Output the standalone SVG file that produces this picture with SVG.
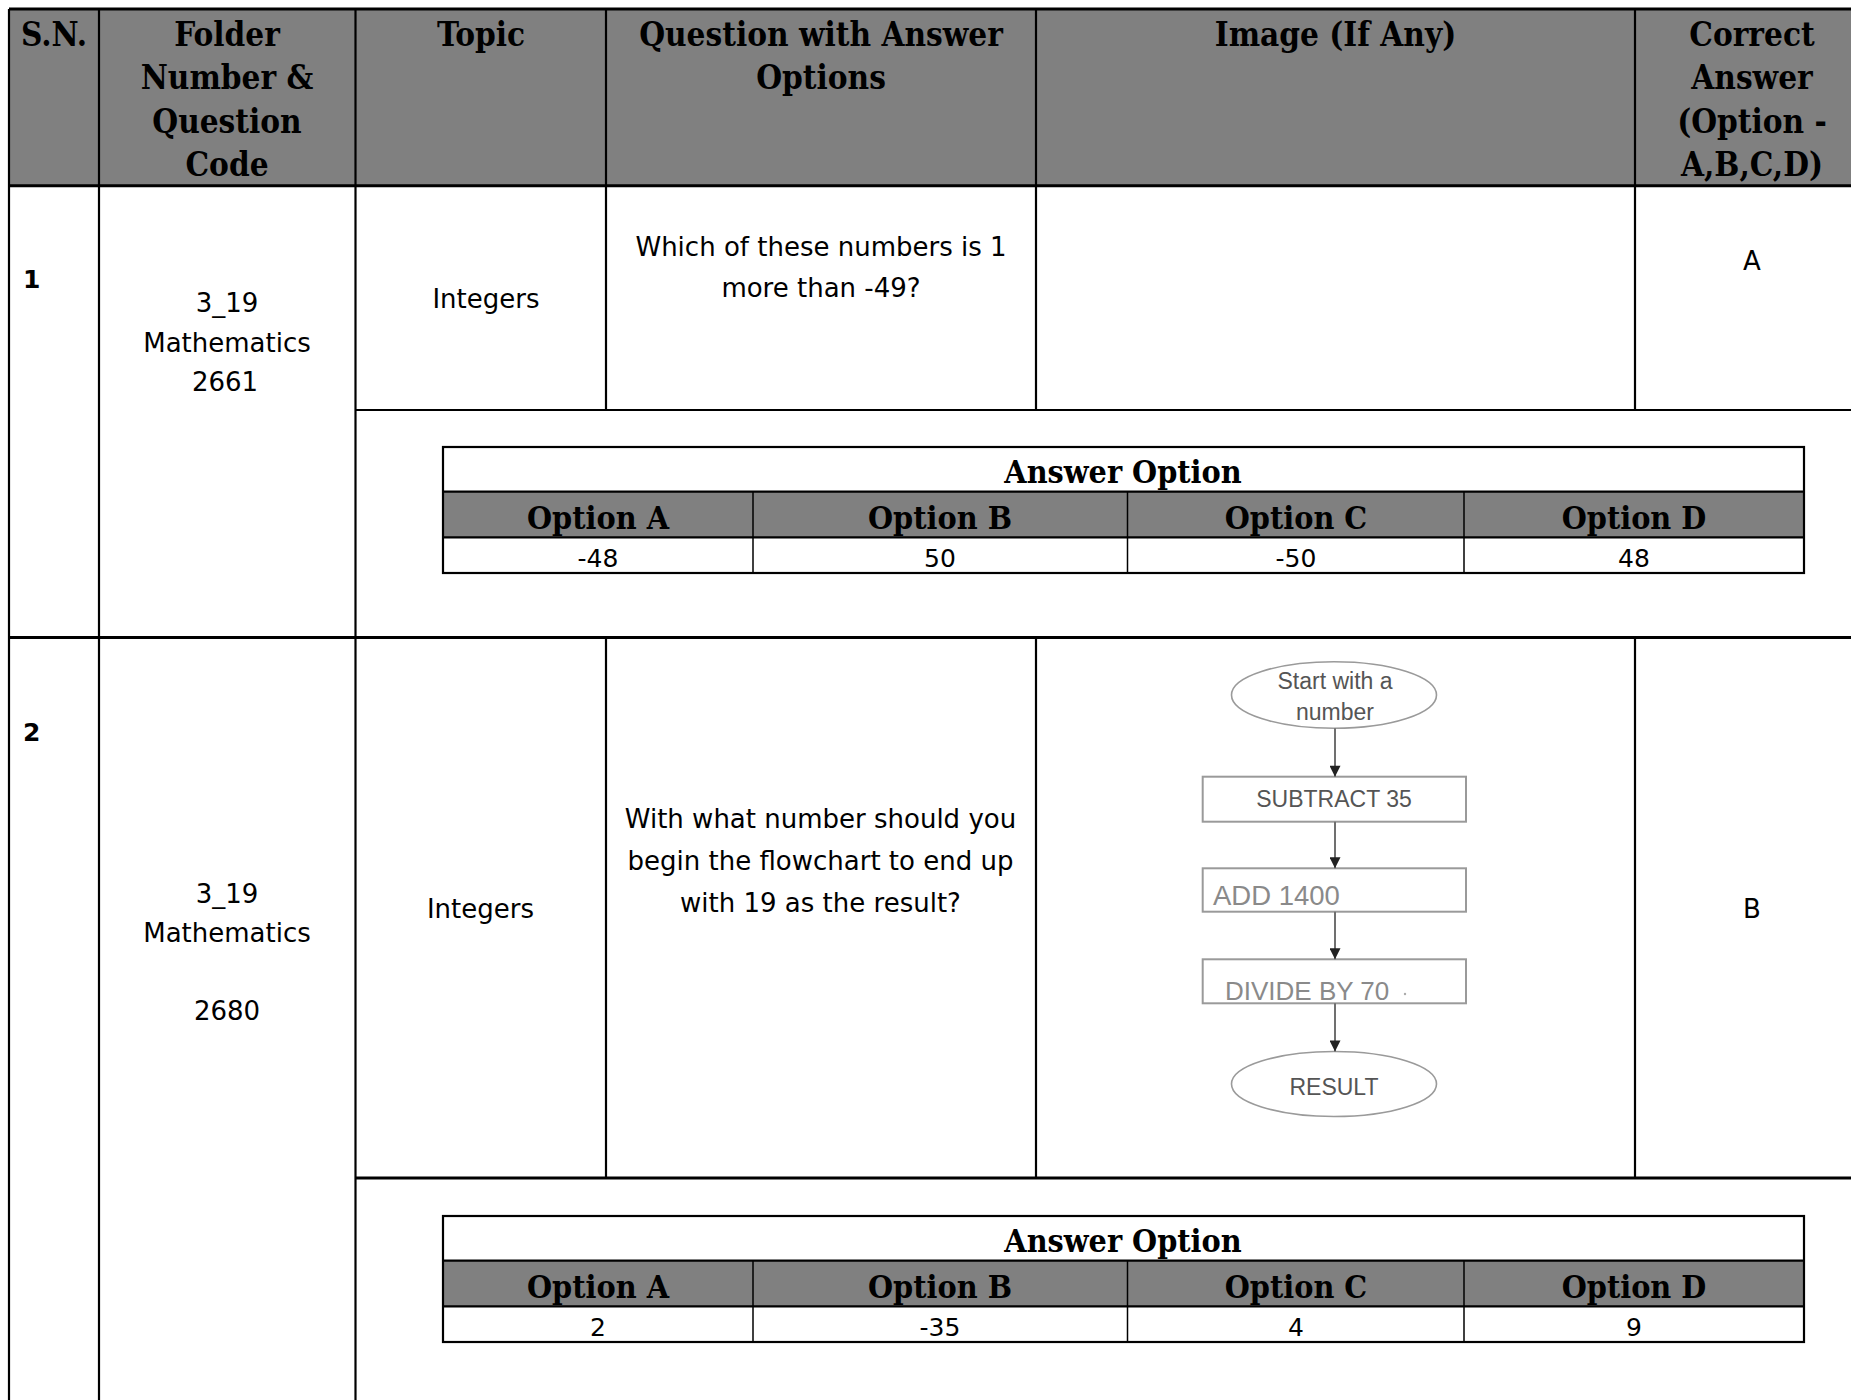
<svg xmlns="http://www.w3.org/2000/svg" width="1851" height="1400" viewBox="0 0 1851 1400">
<defs>
<style>
.h{font-family:"DejaVu Serif Condensed","DejaVu Serif",serif;font-stretch:condensed;font-weight:bold;font-size:33px;text-anchor:middle;fill:#000}
.ah{font-family:"DejaVu Serif Condensed","DejaVu Serif",serif;font-stretch:condensed;font-weight:bold;font-size:32px;text-anchor:middle;fill:#000}
.b{font-family:"DejaVu Sans",sans-serif;font-size:26px;text-anchor:middle;fill:#000}
.v{font-family:"DejaVu Sans",sans-serif;font-size:25px;text-anchor:middle;fill:#000}
.n{font-family:"DejaVu Sans",sans-serif;font-weight:bold;font-size:25px;fill:#000}
.ft{font-family:"Liberation Sans",sans-serif;font-size:23px;text-anchor:middle;fill:#555}
.ft2{font-family:"Liberation Sans",sans-serif;fill:#8a8a8a}
.g{fill:#808080}
.L3{stroke:#000;stroke-width:3;fill:none}
.L2{stroke:#000;stroke-width:2.2;fill:none}
.L1{stroke:#000;stroke-width:1.5;fill:none}
.fb{fill:#fff;stroke:#9a9a9a;stroke-width:2}
.fe{fill:#fff;stroke:#9a9a9a;stroke-width:1.6}
.fc{stroke:#707070;stroke-width:2;fill:none;marker-end:url(#ah)}
</style>
<marker id="ah" viewBox="0 0 10 10" refX="10" refY="5" markerWidth="12" markerHeight="11" markerUnits="userSpaceOnUse" orient="auto">
<path d="M0,0 L10,5 L0,10 Z" fill="#222"/>
</marker>
</defs>
<rect width="1851" height="1400" fill="#fff"/>

<g id="header">
<rect class="g" x="9" y="9" width="1842" height="176.7"/>
<text class="h" x="54" y="45.5">S.N.</text>
<text class="h" x="227" y="45.5">Folder</text>
<text class="h" x="227" y="89">Number &amp;</text>
<text class="h" x="227" y="132.5">Question</text>
<text class="h" x="227" y="176">Code</text>
<text class="h" x="481" y="45.5">Topic</text>
<text class="h" x="821" y="45.5">Question with Answer</text>
<text class="h" x="821" y="89">Options</text>
<text class="h" x="1335.5" y="45.5">Image (If Any)</text>
<text class="h" x="1752" y="45.5">Correct</text>
<text class="h" x="1752" y="89">Answer</text>
<text class="h" x="1752" y="132.5">(Option -</text>
<text class="h" x="1752" y="176">A,B,C,D)</text>
</g>

<g id="grid">
<line class="L3" x1="9" y1="9" x2="1851" y2="9"/>
<line class="L3" x1="9" y1="185.7" x2="1851" y2="185.7"/>
<line class="L2" x1="9" y1="9" x2="9" y2="1400"/>
<line class="L2" x1="99" y1="9" x2="99" y2="1400"/>
<line class="L2" x1="355.5" y1="9" x2="355.5" y2="1400"/>
<line class="L2" x1="606" y1="9" x2="606" y2="410"/>
<line class="L2" x1="1036" y1="9" x2="1036" y2="410"/>
<line class="L2" x1="1635" y1="9" x2="1635" y2="410"/>
<line class="L2" x1="355.5" y1="410" x2="1851" y2="410"/>
<line class="L3" x1="9" y1="637.5" x2="1851" y2="637.5"/>
<line class="L2" x1="606" y1="637.5" x2="606" y2="1178"/>
<line class="L2" x1="1036" y1="637.5" x2="1036" y2="1178"/>
<line class="L2" x1="1635" y1="637.5" x2="1635" y2="1178"/>
<line class="L3" x1="355.5" y1="1178" x2="1851" y2="1178"/>
</g>

<g id="row1">
<text class="n" x="23" y="288">1</text>
<text class="b" x="227" y="312">3_19</text>
<text class="b" x="227" y="351.5">Mathematics</text>
<text class="b" x="225" y="391">2661</text>
<text class="b" x="486" y="308">Integers</text>
<text class="b" x="821" y="256">Which of these numbers is 1</text>
<text class="b" x="821" y="297">more than -49?</text>
<text class="b" x="1752" y="270">A</text>
</g>

<g id="answers1">
<rect class="g" x="443" y="491.7" width="1361" height="45.6"/>
<rect class="L2" x="443" y="447" width="1361" height="126"/>
<line class="L2" x1="443" y1="491.7" x2="1804" y2="491.7"/>
<line class="L2" x1="443" y1="537.3" x2="1804" y2="537.3"/>
<line class="L1" x1="753" y1="491.7" x2="753" y2="573"/>
<line class="L1" x1="1127.5" y1="491.7" x2="1127.5" y2="573"/>
<line class="L1" x1="1464" y1="491.7" x2="1464" y2="573"/>
<text class="ah" x="1123" y="483">Answer Option</text>
<text class="ah" x="598" y="528.5">Option A</text>
<text class="ah" x="940" y="528.5">Option B</text>
<text class="ah" x="1296" y="528.5">Option C</text>
<text class="ah" x="1634" y="528.5">Option D</text>
<text class="v" x="598" y="566.5">-48</text>
<text class="v" x="940" y="566.5">50</text>
<text class="v" x="1296" y="566.5">-50</text>
<text class="v" x="1634" y="566.5">48</text>
</g>

<g id="row2">
<text class="n" x="23" y="741">2</text>
<text class="b" x="227" y="902.5">3_19</text>
<text class="b" x="227" y="941.5">Mathematics</text>
<text class="b" x="227" y="1019.5">2680</text>
<text class="b" x="480.5" y="918">Integers</text>
<text class="b" x="820.5" y="828">With what number should you</text>
<text class="b" x="820.5" y="870">begin the flowchart to end up</text>
<text class="b" x="820.5" y="912">with 19 as the result?</text>
<text class="b" x="1752" y="918">B</text>
</g>

<g id="flow-start">
<ellipse class="fe" cx="1334" cy="695" rx="102.5" ry="33.3"/>
<text class="ft" x="1335" y="689">Start with a</text>
<text class="ft" x="1335" y="720">number</text>
</g>
<g id="flow-subtract">
<rect class="fb" x="1202.7" y="776.7" width="263.3" height="45"/>
<text class="ft" x="1334" y="807">SUBTRACT 35</text>
</g>
<g id="flow-add">
<rect class="fb" x="1202.7" y="868.3" width="263.3" height="43.4"/>
<text class="ft2" x="1213" y="905" font-size="27.5">ADD 1400</text>
</g>
<g id="flow-divide">
<rect class="fb" x="1202.7" y="959.3" width="263.3" height="44"/>
<text class="ft2" x="1225" y="1000" font-size="26">DIVIDE BY 70</text>
<circle cx="1405" cy="994" r="1.2" fill="#aaa"/>
</g>
<g id="flow-result">
<ellipse class="fe" cx="1334" cy="1084" rx="102.5" ry="32.5"/>
<text class="ft" x="1334" y="1095" font-size="22">RESULT</text>
</g>

<g id="connectors">
<line class="fc" x1="1335" y1="728.3" x2="1335" y2="776.7"/>
<line class="fc" x1="1335" y1="821.7" x2="1335" y2="868.3"/>
<line class="fc" x1="1335" y1="911.7" x2="1335" y2="959.3"/>
<line class="fc" x1="1335" y1="1003.3" x2="1335" y2="1051.5"/>
</g>

<g id="answers2">
<rect class="g" x="443" y="1260.7" width="1361" height="45.6"/>
<rect class="L2" x="443" y="1216" width="1361" height="126"/>
<line class="L2" x1="443" y1="1260.7" x2="1804" y2="1260.7"/>
<line class="L2" x1="443" y1="1306.3" x2="1804" y2="1306.3"/>
<line class="L1" x1="753" y1="1260.7" x2="753" y2="1342"/>
<line class="L1" x1="1127.5" y1="1260.7" x2="1127.5" y2="1342"/>
<line class="L1" x1="1464" y1="1260.7" x2="1464" y2="1342"/>
<text class="ah" x="1123" y="1252">Answer Option</text>
<text class="ah" x="598" y="1297.5">Option A</text>
<text class="ah" x="940" y="1297.5">Option B</text>
<text class="ah" x="1296" y="1297.5">Option C</text>
<text class="ah" x="1634" y="1297.5">Option D</text>
<text class="v" x="598" y="1335.5">2</text>
<text class="v" x="940" y="1335.5">-35</text>
<text class="v" x="1296" y="1335.5">4</text>
<text class="v" x="1634" y="1335.5">9</text>
</g>
</svg>
